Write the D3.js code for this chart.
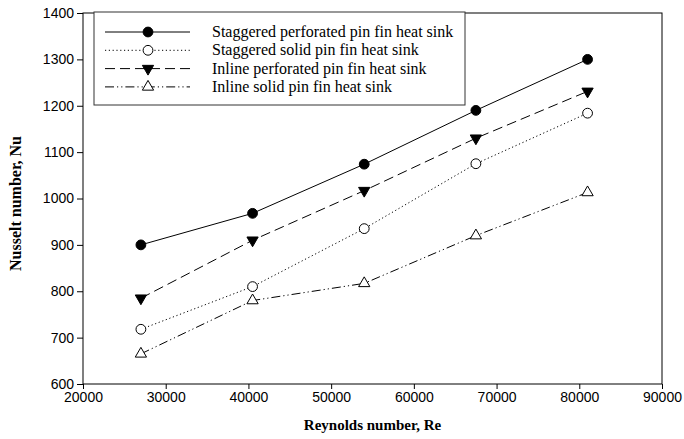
<!DOCTYPE html>
<html>
<head>
<meta charset="utf-8">
<script src="https://cdn.jsdelivr.net/npm/d3@7"></script>
<style>
body { margin: 0; background: #fff; }
.tick text { font-family: "Liberation Sans", Arial, sans-serif; font-size: 14px; fill: #000; }
.axisTitle { font-family: "Liberation Serif", "Times New Roman", serif; font-weight: bold; font-size: 15px; }
.legendText { font-family: "Liberation Serif", "Times New Roman", serif; font-size: 16px; }
</style>
</head>
<body>
<svg id="chart" width="684" height="439"></svg>
<script>
// reynolds numbers on x
var reynolds = [27000, 40500, 54000, 67500, 81000];

var staggeredPerforated = [900, 968, 1074, 1190, 1300];
var staggeredSolid = [718, 810, 935, 1075, 1184];
var inlinePerforated = [785, 910, 1017, 1130, 1231];
var inlineSolid = [665, 780, 817, 920, 1013];

var seriesNames = ["Staggered perforated pin fin heat sink", "Staggered solid pin fin heat sink",
	"Inline perforated pin fin heat sink", "Inline solid pin fin heat sink"];

var xTicks = [20000, 30000, 40000, 50000, 60000, 70000, 80000, 90000];
var yTicks = [600, 700, 800, 900, 1000, 1100, 1200, 1300, 1400];

var series = [
	{name: seriesNames[0], values: staggeredPerforated, dash: null, marker: "circle", fill: "#000"},
	{name: seriesNames[1], values: staggeredSolid, dash: "1.2,2.6", marker: "circle", fill: "#fff"},
	{name: seriesNames[2], values: inlinePerforated, dash: "10,5", marker: "triDown", fill: "#000"},
	{name: seriesNames[3], values: inlineSolid, dash: "9,3,1.2,3,1.2,3", marker: "triUp", fill: "#fff"}
];

var svg = d3.select("#chart");
var pLeft = 83, pRight = 662, pTop = 13, pBottom = 384;

var x = d3.scaleLinear().domain([20000, 90000]).range([pLeft, pRight]);
var y = d3.scaleLinear().domain([600, 1400]).range([pBottom, pTop]);

// frame
svg.append("rect")
	.attr("x", pLeft).attr("y", pTop)
	.attr("width", pRight - pLeft).attr("height", pBottom - pTop)
	.attr("fill", "none").attr("stroke", "#000").attr("stroke-width", 1);

svg.append("g")
	.attr("transform", "translate(0," + pBottom + ")")
	.call(d3.axisBottom(x).tickValues(xTicks).tickFormat(d3.format("d")).tickSize(5).tickPadding(3))
	.call(function(g) { g.select(".domain").remove(); });

svg.append("g")
	.attr("transform", "translate(" + pLeft + ",0)")
	.call(d3.axisLeft(y).tickValues(yTicks).tickFormat(d3.format("d")).tickSize(6).tickPadding(3))
	.call(function(g) { g.select(".domain").remove(); });

svg.append("text")
	.attr("class", "axisTitle")
	.attr("x", (pLeft + pRight) / 2).attr("y", 430)
	.attr("text-anchor", "middle")
	.text("Reynolds number, Re");

svg.append("text")
	.attr("class", "axisTitle")
	.style("font-size", "16px")
	.attr("transform", "translate(21," + ((pTop + pBottom) / 2 + 5) + ") rotate(-90)")
	.attr("text-anchor", "middle")
	.text("Nusselt number, Nu");

var line = d3.line()
	.x(function(d, i) { return x(reynolds[i]); })
	.y(function(d) { return y(d); });

function drawMarker(g, type, fill, cx, cy) {
	if (type == "circle") {
		g.append("circle").attr("cx", cx).attr("cy", cy).attr("r", 4.9)
			.attr("fill", fill).attr("stroke", "#000").attr("stroke-width", 1);
	} else {
		var sym = d3.symbol().type(d3.symbolTriangle).size(55);
		g.append("path").attr("d", sym())
			.attr("transform", "translate(" + cx + "," + cy + ")" + (type == "triDown" ? " rotate(180)" : ""))
			.attr("fill", fill).attr("stroke", "#000").attr("stroke-width", 1);
	}
}

for (var s = 0; s < series.length; s++) {
	var ser = series[s];
	svg.append("path")
		.datum(ser.values)
		.attr("d", line)
		.attr("fill", "none")
		.attr("stroke", "#000")
		.attr("stroke-width", 1)
		.attr("stroke-dasharray", ser.dash);
	var mg = svg.append("g");
	for (var k = 0; k < ser.values.length; k++) {
		drawMarker(mg, ser.marker, ser.fill, x(reynolds[k]), y(ser.values[k]));
	}
}

// legend
var lg = svg.append("g");
lg.append("rect")
	.attr("x", 94).attr("y", 12)
	.attr("width", 371).attr("height", 93)
	.attr("fill", "#fff").attr("stroke", "#333").attr("stroke-width", 1);

for (var s = 0; s < series.length; s++) {
	var ser = series[s];
	var ly = 32 + s * 18.3;
	lg.append("line")
		.attr("x1", 105).attr("x2", 190).attr("y1", ly).attr("y2", ly)
		.attr("stroke", "#000").attr("stroke-width", 1)
		.attr("stroke-dasharray", ser.dash);
	drawMarker(lg, ser.marker, ser.fill, 148, ly);
	lg.append("text")
		.attr("class", "legendText")
		.attr("x", 212).attr("y", ly + 5)
		.text(ser.name);
}
</script>
</body>
</html>
